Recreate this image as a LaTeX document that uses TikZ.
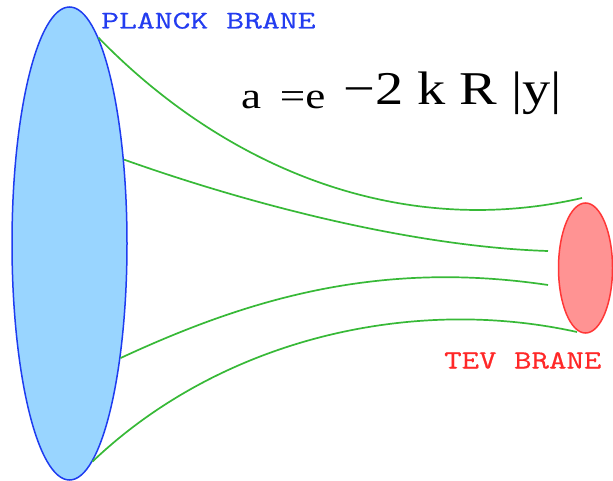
\documentclass[tikz,border=0pt]{standalone}
\usepackage{fontspec}
\usepackage{graphicx}
\usetikzlibrary{shapes.geometric}
\newfontfamily\formulafont{Liberation Serif}
\newfontfamily\branefont[FakeBold=0.5]{Latin Modern Mono}
\definecolor{planckfill}{RGB}{153,213,255}
\definecolor{planckline}{RGB}{30,60,240}
\definecolor{tevfill}{RGB}{255,147,147}
\definecolor{tevline}{RGB}{255,55,55}
\definecolor{fieldline}{RGB}{55,185,55}
\definecolor{plancktext}{RGB}{35,60,240}
\definecolor{tevtext}{RGB}{255,40,40}
\tikzset{
  brane/.style={ellipse, inner sep=0pt, line width=1.5pt},
  warp/.style={draw=fieldline, line width=1.7pt},
  label/.style={inner sep=0pt, anchor=base west, font=\branefont\fontsize{25.5}{25.5}\selectfont},
}
\begin{document}
\begin{tikzpicture}[x=1pt, y=-1pt]
\useasboundingbox (0,0) rectangle (613,481);
\fill[white] (0,0) rectangle (613,481);
% branes
\node[brane, draw=planckline, fill=planckfill, minimum width=115pt, minimum height=473pt] (planck) at (69.5,243.5) {};
\node[brane, draw=tevline, fill=tevfill, minimum width=54pt, minimum height=130pt] (tev) at (585.5,268) {};
% free ends of the field lines
\coordinate (e1) at (582,198);
\coordinate (e2) at (548,251);
\coordinate (e3) at (548,285);
\coordinate (e4) at (577,332);
% field lines
\draw[warp] (planck.82) .. controls (225,168) and (400,240) .. (e1);
\draw[warp] (planck.57) .. controls (260,208) and (420,247) .. (e2);
\draw[warp] (planck.-66) .. controls (250,298) and (380,260) .. (e3);
\draw[warp] (planck.-84) .. controls (220,340) and (410,295) .. (e4);
% labels
\node[label, text=plancktext] (plancklabel) at (101,28.5) {\scalebox{1.36}[1]{PLANCK BRANE}};
\node[label, text=tevtext] (tevlabel) at (444,368.5) {\scalebox{1.33}[1.03]{TEV BRANE}};
% formula
\node[inner sep=0pt, anchor=base west] (base) at (241,109) {\scalebox{1.22}[1]{\formulafont\fontsize{37}{37}\selectfont a\hspace{6pt} =e}};
\node[inner sep=0pt, anchor=base west] (expo) at (343,105) {\scalebox{1.2}[1]{\formulafont\fontsize{47}{47}\selectfont −2 k R |y|}};
\end{tikzpicture}
\end{document}
